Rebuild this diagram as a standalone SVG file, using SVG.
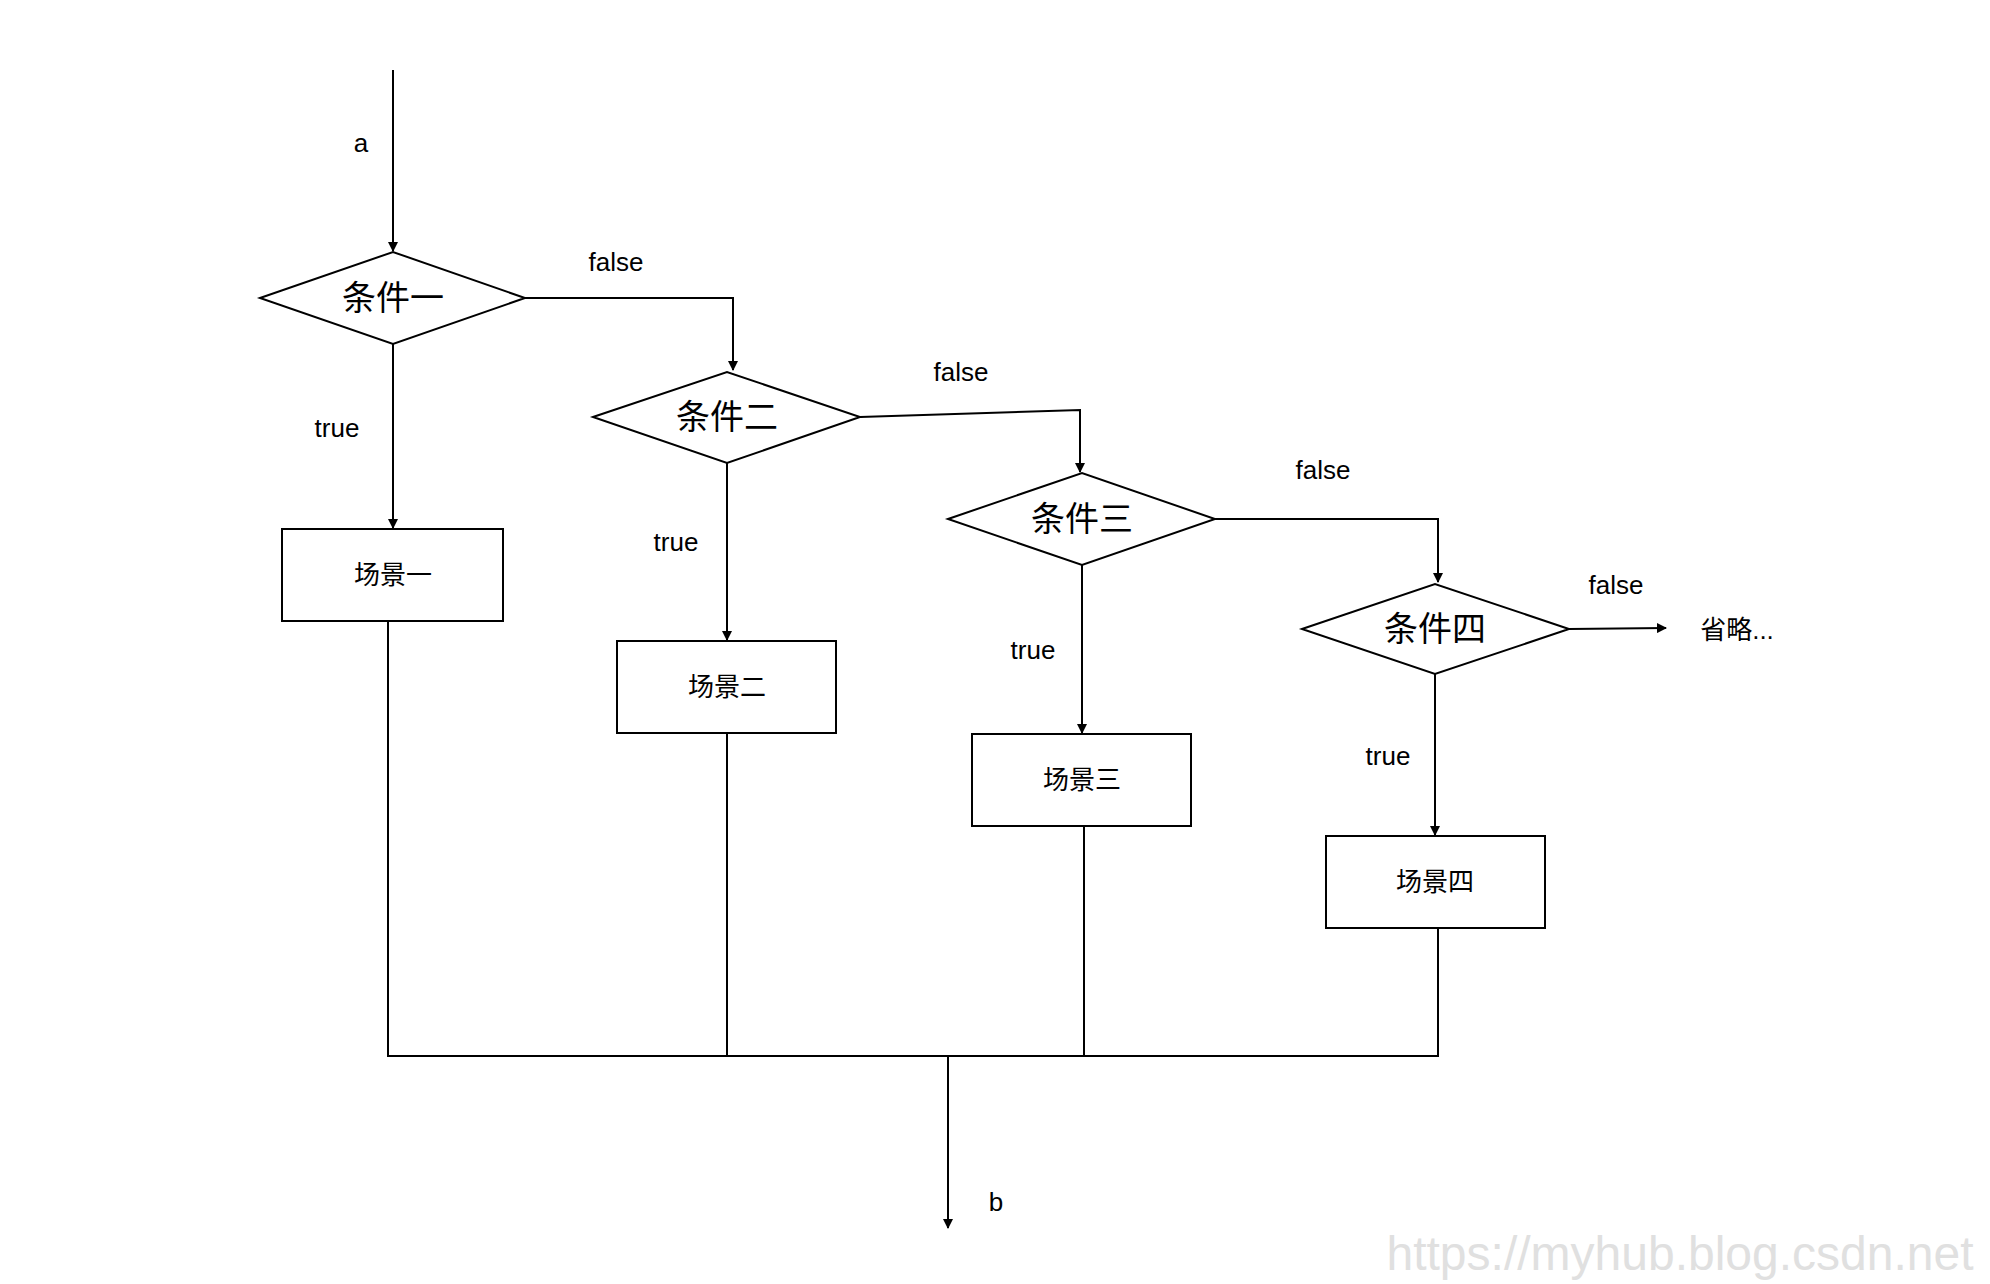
<svg xmlns="http://www.w3.org/2000/svg" width="1990" height="1284" viewBox="0 0 1990 1284">
<style>
.s{fill:#fff;stroke:#000;stroke-width:2}
.c{fill:none;stroke:#000;stroke-width:2}
.t{font-family:"Liberation Sans","Noto Sans CJK SC",sans-serif;fill:#000;text-anchor:middle;dominant-baseline:central}
.d{font-size:34px}
.b{font-size:26px}
.l{font-size:26px}
</style>
<defs><marker id="ar" markerWidth="10" markerHeight="10" refX="9" refY="5" orient="auto" markerUnits="userSpaceOnUse"><path d="M0,0L10,5L0,10z" fill="#000"/></marker></defs>
<rect width="1990" height="1284" fill="#fff"/>
<g id="connectors">
<path class="c" d="M393,70V251" marker-end="url(#ar)"/>
<path class="c" d="M525,298H733V370" marker-end="url(#ar)"/>
<path class="c" d="M860,417L1080,410V472" marker-end="url(#ar)"/>
<path class="c" d="M1215,519H1438V582" marker-end="url(#ar)"/>
<path class="c" d="M1569,629L1666,628" marker-end="url(#ar)"/>
<path class="c" d="M393,344V528" marker-end="url(#ar)"/>
<path class="c" d="M727,463V640" marker-end="url(#ar)"/>
<path class="c" d="M1082,565V733" marker-end="url(#ar)"/>
<path class="c" d="M1435,674V835" marker-end="url(#ar)"/>
<path class="c" d="M388,621V1056H1438V928M727,733V1056M1084,826V1056"/>
<path class="c" d="M948,1056V1228" marker-end="url(#ar)"/>
<text class="t l" x="361" y="143">a</text>
<text class="t l" x="616" y="262">false</text>
<text class="t l" x="961" y="372">false</text>
<text class="t l" x="1323" y="470">false</text>
<text class="t l" x="1616" y="585">false</text>
<text class="t l" x="337" y="428">true</text>
<text class="t l" x="676" y="542">true</text>
<text class="t l" x="1033" y="650">true</text>
<text class="t l" x="1388" y="756">true</text>
<text class="t l" x="996" y="1202">b</text>
</g>
<g id="cond1"><polygon class="s" points="260,298 393,252 525,298 393,344"/><text class="t d" x="393" y="298">条件一</text></g>
<g id="cond2"><polygon class="s" points="593,417 727,372 860,417 727,463"/><text class="t d" x="727" y="417">条件二</text></g>
<g id="cond3"><polygon class="s" points="948,519 1082,473 1215,519 1082,565"/><text class="t d" x="1082" y="519">条件三</text></g>
<g id="cond4"><polygon class="s" points="1302,629 1435,584 1569,629 1435,674"/><text class="t d" x="1435" y="629">条件四</text></g>
<g id="scene1"><rect class="s" x="282" y="529" width="221" height="92"/><text class="t b" x="393" y="575">场景一</text></g>
<g id="scene2"><rect class="s" x="617" y="641" width="219" height="92"/><text class="t b" x="727" y="687">场景二</text></g>
<g id="scene3"><rect class="s" x="972" y="734" width="219" height="92"/><text class="t b" x="1082" y="780">场景三</text></g>
<g id="scene4"><rect class="s" x="1326" y="836" width="219" height="92"/><text class="t b" x="1435" y="882">场景四</text></g>
<g id="omit"><text class="t b" x="1737" y="630">省略...</text></g>
<text class="t" x="1680" y="1253" font-size="48" fill="#e0e0e0" style="fill:#e0e0e0">https://myhub.blog.csdn.net</text>
</svg>
